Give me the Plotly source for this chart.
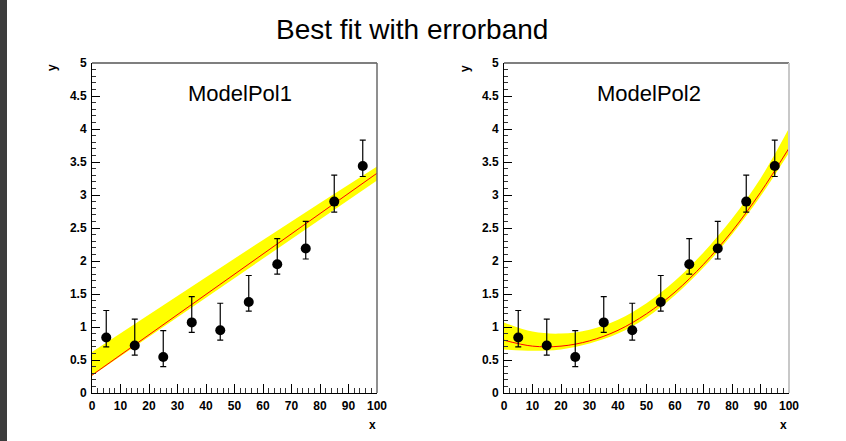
import plotly.graph_objects as go

W, H = 846, 441

# Data points (shared by both panels)
x_pts = [5, 15, 25, 35, 45, 55, 65, 75, 85, 95]
y_pts = [0.84, 0.72, 0.545, 1.07, 0.95, 1.38, 1.95, 2.19, 2.90, 3.44]
err_hi = [0.41, 0.40, 0.40, 0.39, 0.41, 0.40, 0.39, 0.41, 0.40, 0.39]
err_lo = [0.14, 0.145, 0.145, 0.15, 0.15, 0.14, 0.15, 0.16, 0.16, 0.16]

# ModelPol1 fit line and error band
pol1_x = [0, 20, 40, 60, 80, 100]
pol1_line = [0.27, 0.88, 1.49, 2.10, 2.72, 3.33]
pol1_up = [0.62, 1.19, 1.76, 2.32, 2.88, 3.43]
pol1_lo = [0.26, 0.85, 1.44, 2.03, 2.62, 3.22]

# ModelPol2 fit curve and error band
pol2_x = [0, 10, 20, 30, 40, 50, 60, 70, 80, 90, 100]
pol2_line = [0.80, 0.71, 0.71, 0.79, 0.95, 1.20, 1.53, 1.95, 2.45, 3.04, 3.71]
pol2_up = [1.07, 0.93, 0.90, 0.96, 1.11, 1.36, 1.70, 2.13, 2.64, 3.25, 4.01]
pol2_lo = [0.66, 0.64, 0.66, 0.75, 0.90, 1.14, 1.48, 1.90, 2.40, 2.98, 3.64]

panel_titles = ["ModelPol1", "ModelPol2"]
main_title = "Best fit with errorband"

YELLOW = "#ffff00"
RED = "#ff0000"
FONT = "Liberation Sans, Arial, sans-serif"

fig = go.Figure()

def add_panel(idx, bx, bline, bup, blo, shape):
    xa = "x" if idx == 1 else "x2"
    ya = "y" if idx == 1 else "y2"
    fig.add_trace(go.Scatter(x=bx, y=blo, mode="lines", line=dict(width=0, shape=shape, color=YELLOW),
                             xaxis=xa, yaxis=ya, showlegend=False, hoverinfo="skip"))
    fig.add_trace(go.Scatter(x=bx, y=bup, mode="lines", line=dict(width=0, shape=shape, color=YELLOW),
                             fill="tonexty", fillcolor=YELLOW,
                             xaxis=xa, yaxis=ya, showlegend=False, hoverinfo="skip"))
    fig.add_trace(go.Scatter(x=bx, y=bline, mode="lines", line=dict(width=1, shape=shape, color=RED),
                             xaxis=xa, yaxis=ya, showlegend=False))
    fig.add_trace(go.Scatter(x=x_pts, y=y_pts, mode="markers",
                             marker=dict(color="black", size=10, symbol="circle"),
                             error_y=dict(type="data", symmetric=False, array=err_hi, arrayminus=err_lo,
                                          color="black", thickness=1.2, width=3),
                             xaxis=xa, yaxis=ya, showlegend=False))

add_panel(1, pol1_x, pol1_line, pol1_up, pol1_lo, "linear")
add_panel(2, pol2_x, pol2_line, pol2_up, pol2_lo, "spline")

ytop, ybot = 63, 393
ydom = [1 - ybot / H, 1 - ytop / H]
doms = [[92 / W, 377 / W], [504 / W, 789 / W]]

tickfont = dict(family=FONT, size=12, color="black", weight="bold")

def xaxis_cfg(dom, anchor):
    return dict(domain=dom, anchor=anchor, range=[0, 100], dtick=10, tick0=0, automargin=False,
                ticks="inside", ticklen=9, tickwidth=1, tickcolor="black",
                minor=dict(dtick=2, ticks="inside", ticklen=5, tickcolor="#333333", tickwidth=1),
                showline=True, linecolor="black", linewidth=1, mirror=False,
                showgrid=False, zeroline=False, tickfont=tickfont, ticklabelstandoff=2,
                fixedrange=True)

def yaxis_cfg(anchor):
    return dict(domain=ydom, anchor=anchor, range=[0, 5], dtick=0.5, tick0=0, automargin=False,
                ticks="inside", ticklen=8, tickwidth=1, tickcolor="black",
                minor=dict(dtick=0.1, ticks="inside", ticklen=4, tickcolor="#333333", tickwidth=1),
                showline=True, linecolor="black", linewidth=1, mirror=False,
                showgrid=False, zeroline=False, tickfont=tickfont, ticklabelstandoff=2,
                fixedrange=True)

fig.update_layout(
    width=W, height=H, margin=dict(l=0, r=0, t=0, b=0, autoexpand=False),
    paper_bgcolor="white", plot_bgcolor="white",
    xaxis=xaxis_cfg(doms[0], "y"), yaxis=yaxis_cfg("x"),
    xaxis2=xaxis_cfg(doms[1], "y2"), yaxis2=yaxis_cfg("x2"),
    showlegend=False,
)

shapes = [
    dict(type="rect", xref="paper", yref="paper", x0=0, x1=7 / W, y0=0, y1=1,
         fillcolor="#3c3c3c", line=dict(width=0), layer="above"),
]
# frame: top and right edges
for i, (d0, d1) in enumerate(doms):
    shapes.append(dict(type="line", xref="paper", yref="paper", x0=d0, x1=d1, y0=ydom[1], y1=ydom[1],
                       line=dict(color="black", width=1.2)))
    shapes.append(dict(type="line", xref="paper", yref="paper", x0=d1, x1=d1, y0=ydom[0], y1=ydom[1],
                       line=dict(color="#6a6a6a" if i == 0 else "#c8c8c8", width=1.5 if i == 0 else 2)))
fig.update_layout(shapes=shapes)

annotations = [
    dict(text=main_title, x=412 / W, y=1 - 30 / H, xref="paper", yref="paper", showarrow=False,
         xanchor="center", yanchor="middle", font=dict(family=FONT, size=28, color="black")),
]
for i, t in enumerate(panel_titles):
    cx = [240, 649][i]
    annotations.append(dict(text=t, x=cx / W, y=1 - 94 / H, xref="paper", yref="paper", showarrow=False,
                            xanchor="center", yanchor="middle",
                            font=dict(family=FONT, size=22, color="black")))
    # axis titles
    xx = [372, 783][i]
    annotations.append(dict(text="x", x=xx / W, y=1 - 425 / H, xref="paper", yref="paper", showarrow=False,
                            xanchor="center", yanchor="middle", font=dict(family=FONT, size=12, color="black", weight="bold")))
    yx = [52, 465][i]
    annotations.append(dict(text="y", x=yx / W, y=1 - 68 / H, xref="paper", yref="paper", showarrow=False,
                            xanchor="center", yanchor="middle", textangle=-90,
                            font=dict(family=FONT, size=12, color="black", weight="bold")))
fig.update_layout(annotations=annotations)

fig.write_html("out.html")
